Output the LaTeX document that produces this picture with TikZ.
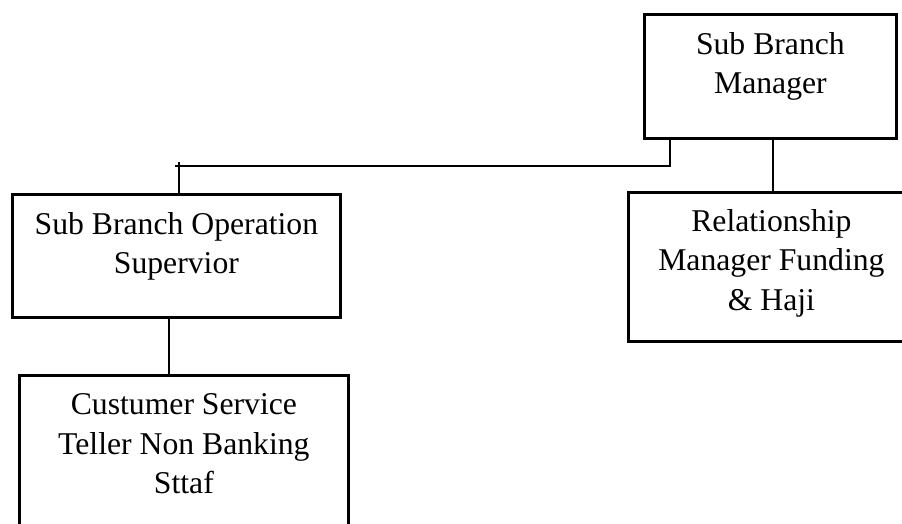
\documentclass[tikz,border=0pt]{standalone}
\usepackage{fontspec}
\setmainfont{Liberation Serif}
\begin{document}
\begin{tikzpicture}[x=1pt,y=-1pt,
  box/.style={draw, line width=2.8pt, inner sep=0pt, anchor=north west},
  txt/.style={font=\fontsize{31.7}{39.5}\selectfont, align=center, inner sep=0pt, anchor=north},
  wire/.style={line width=1.3pt}]
\useasboundingbox (0,0) rectangle (902,524);
\clip (0,0) rectangle (902,524);
% boxes
\node[box, minimum width=252pt, minimum height=124pt] (sbm) at (643,13) {};
\node[box, minimum width=328pt, minimum height=123pt] (sbos) at (11,193) {};
\node[box, minimum width=286pt, minimum height=149pt] (rm) at (627,191) {};
\node[box, minimum width=329pt, minimum height=170pt] (cs) at (18,374) {};
% texts
\node[txt] (sbmt) at ([yshift=-19pt]sbm.north) {Sub Branch\\Manager};
\node[txt] (sbost) at ([yshift=-19pt]sbos.north) {Sub Branch Operation\\Supervior};
\node[txt] (rmt) at ([yshift=-18pt]rm.north) {Relationship\\Manager Funding\\\& Haji};
\node[txt] (cst) at ([yshift=-19.5pt]cs.north) {Custumer Service\\Teller Non Banking\\Sttaf};
% connectors
\coordinate (j1) at (670,166);
\coordinate (j2) at (175,166);
\coordinate (t1) at (179,162);
\coordinate (r1) at (773,0);
\coordinate (c1) at (169,0);
\draw[wire] (sbm.south -| j1) -- (j1) -- (j2);
\draw[wire] (t1) -- (t1 |- sbos.north);
\draw[wire] (sbm.south -| r1) -- (rm.north -| r1);
\draw[wire] (sbos.south -| c1) -- (cs.north -| c1);
\end{tikzpicture}
\end{document}
